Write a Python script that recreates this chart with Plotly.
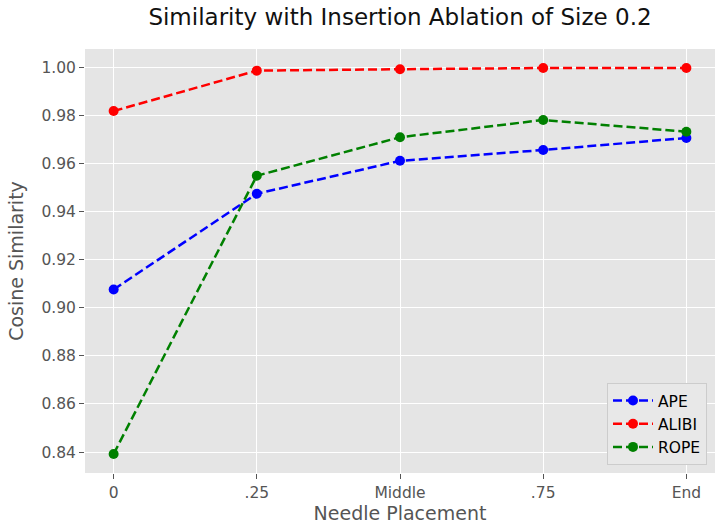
import plotly.graph_objects as go

categories = ["0", ".25", "Middle", ".75", "End"]
ape = [0.9076, 0.9474, 0.9611, 0.9656, 0.9706]
alibi = [0.9818, 0.9986, 0.9992, 0.9997, 0.9997]
rope = [0.8392, 0.9549, 0.9709, 0.9781, 0.9732]
y_ticks = [0.84, 0.86, 0.88, 0.90, 0.92, 0.94, 0.96, 0.98, 1.00]

series = [("APE", ape, "blue"), ("ALIBI", alibi, "red"), ("ROPE", rope, "green")]
xpos = list(range(len(categories)))

W, H = 715, 525
L, R, T, B = 85, 0, 49, 52
PW, PH = W - L - R, H - T - B

fig = go.Figure()
for name, vals, color in series:
    fig.add_trace(go.Scatter(
        x=xpos, y=vals, name=name, mode="lines+markers",
        line=dict(color=color, width=2.5, dash="9px,4px"),
        marker=dict(color=color, size=10),
    ))

font_family = "DejaVu Sans"
fig.update_layout(
    width=W, height=H,
    margin=dict(l=L, r=R, t=T, b=B),
    paper_bgcolor="white",
    plot_bgcolor="#E5E5E5",
    font=dict(family=font_family, color="#555555", size=15),
    title=dict(text="Similarity with Insertion Ablation of Size 0.2",
               x=(L + PW / 2) / W, xref="container", xanchor="center",
               y=1 - 17 / H, yanchor="middle",
               font=dict(size=23, color="#111111", family=font_family)),
    xaxis=dict(
        range=[-0.2, 4.2],
        tickmode="array", tickvals=xpos, ticktext=categories,
        showgrid=True, gridcolor="white", gridwidth=1.3,
        zeroline=False, showline=False,
        ticks="outside", ticklen=5, tickcolor="#555555", tickwidth=1,
        tickfont=dict(size=15.5, color="#555555"),
        title=dict(text="Needle Placement", font=dict(size=19, color="#555555"), standoff=6),
    ),
    yaxis=dict(
        range=[0.8313, 1.0076],
        tickmode="array", tickvals=y_ticks,
        ticktext=[f"{v:.2f}" for v in y_ticks],
        showgrid=True, gridcolor="white", gridwidth=1.3,
        zeroline=False, showline=False,
        ticks="outside", ticklen=5, tickcolor="#555555", tickwidth=1,
        tickfont=dict(size=15.5, color="#555555"),
        title=dict(text="Cosine Similarity", font=dict(size=19, color="#555555"), standoff=12),
    ),
    legend=dict(
        x=1 - 8 / PW, y=8 / PH, xanchor="right", yanchor="bottom",
        bgcolor="#E8E8E8", bordercolor="#CCCCCC", borderwidth=1,
        font=dict(size=15.5, color="#000000"),
        itemwidth=40,
    ),
)

fig.write_html("out.html",
               config={"displayModeBar": False},
               post_script="document.body.style.margin='0';document.body.style.overflow='hidden';")
